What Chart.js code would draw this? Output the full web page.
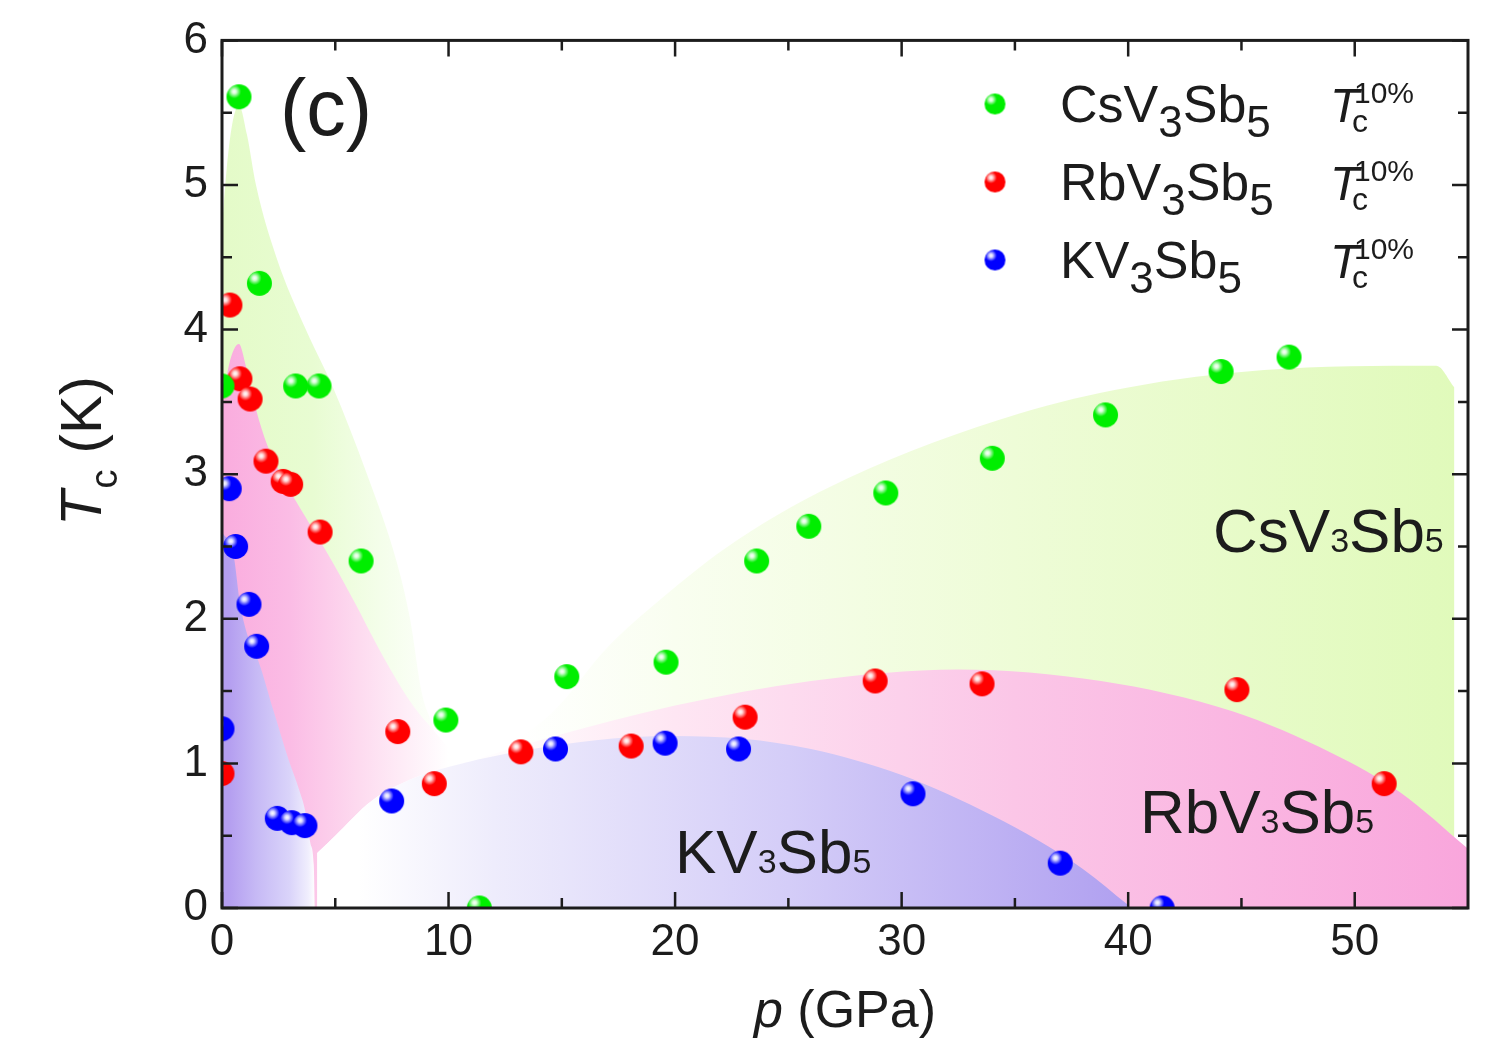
<!DOCTYPE html>
<html>
<head>
<meta charset="utf-8">
<script src="https://cdn.jsdelivr.net/npm/chart.js@4.4.1/dist/chart.umd.min.js"></script>
<style>
  html, body { margin: 0; padding: 0; background: #fff; }
  #chart { display: block; }
</style>
</head>
<body>
<canvas id="chart" width="1487" height="1061"></canvas>
<script>
// Tc(p) phase diagram for AV3Sb5 (A = Cs, Rb, K), Tc 10% criterion

// measured points
const csP  = [0, 0.75, 1.65, 3.25, 4.28, 6.14, 9.88, 11.36, 15.22, 19.6, 23.6, 25.9, 29.3, 34.0, 39.0, 44.1, 47.1];
const csTc = [3.61, 5.61, 4.32, 3.61, 3.61, 2.40, 1.30, 0.0, 1.60, 1.70, 2.40, 2.64, 2.87, 3.11, 3.41, 3.71, 3.81];

const rbP  = [0.35, 0.79, 1.24, 1.94, 2.7, 3.03, 4.33, 0, 7.76, 9.37, 13.19, 18.06, 23.09, 28.83, 33.55, 44.8, 51.3];
const rbTc = [4.17, 3.66, 3.52, 3.09, 2.95, 2.93, 2.60, 0.93, 1.22, 0.86, 1.08, 1.12, 1.32, 1.57, 1.55, 1.51, 0.86];

const kP  = [0.32, 0.6, 1.19, 1.53, 0, 2.44, 3.08, 3.66, 7.49, 14.72, 19.56, 22.8, 30.5, 37.0, 41.5];
const kTc = [2.90, 2.50, 2.10, 1.81, 1.24, 0.62, 0.59, 0.57, 0.74, 1.10, 1.14, 1.10, 0.79, 0.31, 0.0];

// upper edges of the shaded phase regions (filled down to Tc = 0)
const csLeftP  = [0, 0.2, 0.45, 0.75, 1.1, 1.5, 2.4, 3.7, 4.9, 6.4, 7.7, 8.3, 8.8, 9.5, 10.2];
const csLeftT  = [4.7, 5.1, 5.42, 5.55, 5.35, 5.0, 4.5, 4.0, 3.6, 3.0, 2.4, 2.0, 1.5, 1.1, 0];
const csRightP = [10.5, 14.5, 17, 19.4, 22.7, 27.6, 35.2, 40, 46, 53.6, 54.4];
const csRightT = [0.95, 1.34, 1.8, 2.14, 2.54, 2.97, 3.42, 3.6, 3.72, 3.75, 3.6];

const rbLeftP  = [0, 0.3, 0.75, 1.05, 1.5, 2.0, 2.6, 3.7, 4.85, 5.9, 6.9, 8.3, 9.6, 10.6];
const rbLeftT  = [3.45, 3.75, 3.9, 3.75, 3.45, 3.2, 3.0, 2.7, 2.4, 2.1, 1.8, 1.43, 1.18, 1.0];
const rbRightP = [4.2, 5, 6.6, 8.5, 10.6, 14.5, 20, 26, 32.5, 38.8, 44.6, 49, 52, 55];
const rbRightT = [0.38, 0.5, 0.74, 0.9, 1.0, 1.18, 1.4, 1.57, 1.65, 1.57, 1.36, 1.07, 0.8, 0.41];

const kLeftP  = [0, 0.5, 0.8, 1.2, 1.6, 2.3, 2.95, 3.4, 3.66, 3.9, 4.05, 4.1];
const kLeftT  = [2.6, 2.45, 2.1, 1.85, 1.71, 1.35, 1.02, 0.82, 0.68, 0.45, 0.3, 0];
const kRightP = [4.2, 5, 6.6, 8.5, 10.6, 12, 15, 18, 20, 23, 26, 28, 30, 32, 34, 36, 38, 40];
const kRightT = [0.38, 0.5, 0.74, 0.9, 1.0, 1.05, 1.13, 1.18, 1.19, 1.17, 1.1, 1.02, 0.92, 0.79, 0.64, 0.47, 0.27, 0.02];

// axis ticks
const xMajor = [0, 10, 20, 30, 40, 50];
const xMinor = [5, 15, 25, 35, 45];
const yMajor = [0, 1, 2, 3, 4, 5, 6];
const yMinor = [0.5, 1.5, 2.5, 3.5, 4.5, 5.5];

const FONT = '"Liberation Sans", Arial, sans-serif';
const INK = '#1c1c1c';

function pts(xs, ys) {
    return xs.map((x, i) => ({ x: x, y: ys[i] }));
}

// shaded ball used as point marker
function makeBall(color, r) {
    const c = document.createElement('canvas');
    const s = Math.ceil(r * 2 + 2);
    c.width = s;
    c.height = s;
    const g = c.getContext('2d');
    const cx = s / 2, cy = s / 2;
    g.beginPath();
    g.arc(cx, cy, r, 0, Math.PI * 2);
    g.fillStyle = color;
    g.fill();
    const hx = cx - r * 0.38, hy = cy - r * 0.42;
    const hl = g.createRadialGradient(hx, hy, 0, hx, hy, r * 0.55);
    hl.addColorStop(0, 'rgba(255,255,255,1)');
    hl.addColorStop(0.3, 'rgba(255,255,255,0.85)');
    hl.addColorStop(1, 'rgba(255,255,255,0)');
    g.beginPath();
    g.arc(cx, cy, r, 0, Math.PI * 2);
    g.fillStyle = hl;
    g.fill();
    return c;
}

const GREEN = '#00ee00', RED = '#ff0000', BLUE = '#0000ff';
const ballG = makeBall(GREEN, 12.5), ballR = makeBall(RED, 12.5), ballB = makeBall(BLUE, 12.5);
const legG = makeBall(GREEN, 10.5), legR = makeBall(RED, 10.5), legB = makeBall(BLUE, 10.5);

// horizontal gradient, stops given in pressure units
function hGrad(stops) {
    return function(context) {
        const chart = context.chart;
        const area = chart.chartArea;
        if (!area) return 'transparent';
        const xs = chart.scales.x;
        const g = chart.ctx.createLinearGradient(area.left, 0, area.right, 0);
        stops.forEach(([p, col]) => {
            const f = (xs.getPixelForValue(p) - area.left) / (area.right - area.left);
            g.addColorStop(Math.min(1, Math.max(0, f)), col);
        });
        return g;
    };
}

function region(xs, ys, stops, order) {
    return {
        data: pts(xs, ys),
        backgroundColor: hGrad(stops),
        borderColor: 'transparent',
        borderWidth: 0,
        pointRadius: 0,
        fill: 'origin',
        cubicInterpolationMode: 'monotone',
        order: order
    };
}

function series(xs, ys, ball) {
    return {
        data: pts(xs, ys),
        showLine: false,
        pointStyle: ball,
        pointRadius: 12.5,
        order: 1
    };
}

// draw a row of text pieces: [text, font, dy, dx]
function textRuns(ctx, x, y, parts, align) {
    let w = 0;
    parts.forEach(p => { ctx.font = p[1]; w += ctx.measureText(p[0]).width + (p[3] || 0); });
    let cx = align === 'center' ? x - w / 2 : x;
    parts.forEach(p => {
        ctx.font = p[1];
        cx += p[3] || 0;
        ctx.fillText(p[0], cx, y + (p[2] || 0));
        cx += ctx.measureText(p[0]).width;
    });
}

const decorations = {
    id: 'decorations',
    afterDraw(chart) {
        const ctx = chart.ctx;
        const a = chart.chartArea;
        const xs = chart.scales.x, ys = chart.scales.y;
        ctx.save();
        ctx.strokeStyle = INK;
        ctx.fillStyle = INK;
        ctx.lineWidth = 3;

        // frame
        ctx.strokeRect(a.left, a.top, a.right - a.left, a.bottom - a.top);

        // inward ticks on all four sides
        ctx.lineWidth = 2.5;
        ctx.beginPath();
        function xt(v, len) {
            const px = xs.getPixelForValue(v);
            ctx.moveTo(px, a.bottom); ctx.lineTo(px, a.bottom - len);
            ctx.moveTo(px, a.top); ctx.lineTo(px, a.top + len);
        }
        function yt(v, len) {
            const py = ys.getPixelForValue(v);
            ctx.moveTo(a.left, py); ctx.lineTo(a.left + len, py);
            ctx.moveTo(a.right, py); ctx.lineTo(a.right - len, py);
        }
        xMajor.forEach(v => xt(v, 16));
        xMinor.forEach(v => xt(v, 10));
        yMajor.forEach(v => yt(v, 16));
        yMinor.forEach(v => yt(v, 10));
        ctx.stroke();

        ctx.textBaseline = 'alphabetic';
        ctx.textAlign = 'left';

        // panel label
        ctx.font = '79px ' + FONT;
        ctx.fillText('(c)', 280, 135);

        // region labels
        const big = '62px ' + FONT, sub = '34px ' + FONT;
        textRuns(ctx, 1213, 552, [['CsV', big], ['3', sub], ['Sb', big], ['5', sub]]);
        textRuns(ctx, 1140, 833, [['RbV', big], ['3', sub], ['Sb', big], ['5', sub]]);
        textRuns(ctx, 675, 873, [['KV', big], ['3', sub], ['Sb', big], ['5', sub]]);

        // legend
        const lf = '52px ' + FONT, ld = '44px ' + FONT;
        const rows = [
            [legG, 'CsV', 104],
            [legR, 'RbV', 182],
            [legB, 'KV', 260]
        ];
        rows.forEach(([ball, name, cy]) => {
            ctx.drawImage(ball, 995 - ball.width / 2, cy - ball.height / 2);
            textRuns(ctx, 1060, cy + 18, [[name, lf], ['3', ld, 15], ['Sb', lf], ['5', ld, 15]]);
            ctx.font = 'italic 48px ' + FONT;
            ctx.fillText('T', 1330, cy + 18);
            ctx.font = '32px ' + FONT;
            ctx.fillText('c', 1352, cy + 28);
            ctx.font = '30px ' + FONT;
            ctx.fillText('10%', 1354, cy - 1);
        });

        // axis titles
        textRuns(ctx, 845, 1027, [['p', 'italic 52px ' + FONT], [' (GPa)', '52px ' + FONT]], 'center');

        ctx.translate(101, 451);
        ctx.rotate(-Math.PI / 2);
        textRuns(ctx, 0, 0, [['T', 'italic 58px ' + FONT], ['c', '38px ' + FONT, 16, 2], [' (K)', '58px ' + FONT]], 'center');
        ctx.restore();
    }
};

const chart = new Chart(document.getElementById('chart'), {
    type: 'line',
    data: {
        datasets: [
            region(csRightP, csRightT, [[13, 'rgb(255,255,255)'], [20, 'rgb(249,254,240)'], [35, 'rgb(238,252,215)'], [55, 'rgb(224,250,186)']], 10),
            region(csLeftP, csLeftT, [[0, 'rgb(228,251,200)'], [4, 'rgb(232,252,210)'], [7, 'rgb(244,254,234)'], [10, 'rgb(255,255,255)']], 9),
            region(rbLeftP, rbLeftT, [[0, 'rgb(250,172,222)'], [3, 'rgb(251,188,229)'], [6, 'rgb(253,218,239)'], [10, 'rgb(255,255,255)']], 8),
            region(rbRightP, rbRightT, [[11, 'rgb(255,255,255)'], [20, 'rgb(254,230,243)'], [35, 'rgb(251,198,231)'], [55, 'rgb(249,166,220)']], 7),
            region(kRightP, kRightT, [[6, 'rgb(255,255,255)'], [12, 'rgb(238,236,252)'], [25, 'rgb(212,205,248)'], [40, 'rgb(176,160,240)']], 6),
            region(kLeftP, kLeftT, [[0.3, 'rgb(180,158,240)'], [1.5, 'rgb(198,185,245)'], [3, 'rgb(218,212,250)'], [3.8, 'rgb(240,238,253)'], [4.1, 'rgb(255,255,255)']], 5),
            series(csP, csTc, ballG),
            series(rbP, rbTc, ballR),
            series(kP, kTc, ballB)
        ]
    },
    options: {
        responsive: false,
        devicePixelRatio: 1,
        animation: false,
        layout: { padding: { top: 38, right: 19, left: 0, bottom: 0 } },
        plugins: {
            legend: { display: false },
            tooltip: { enabled: false }
        },
        scales: {
            x: {
                type: 'linear',
                min: 0,
                max: 55,
                afterFit: s => { s.height = 153; },
                grid: { display: false, drawTicks: false },
                border: { display: false },
                ticks: {
                    stepSize: 10,
                    includeBounds: false,
                    autoSkip: false,
                    maxRotation: 0,
                    padding: 8,
                    color: INK,
                    font: { family: FONT, size: 44 }
                }
            },
            y: {
                type: 'linear',
                min: 0,
                max: 6,
                afterFit: s => { s.width = 222; },
                grid: { display: false, drawTicks: false },
                border: { display: false },
                ticks: {
                    stepSize: 1,
                    padding: 14,
                    color: INK,
                    font: { family: FONT, size: 44 }
                }
            }
        }
    },
    plugins: [decorations]
});
</script>
</body>
</html>
